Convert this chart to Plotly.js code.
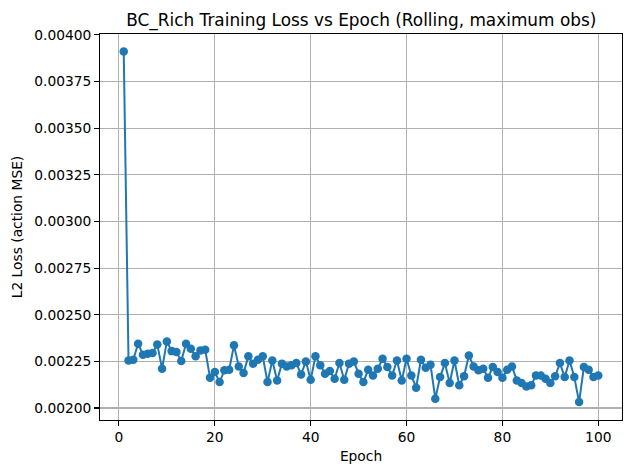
<!DOCTYPE html>
<html>
<head>
<meta charset="utf-8">
<script src="https://cdn.plot.ly/plotly-3.0.1.min.js"></script>
<style>
  html, body { margin: 0; padding: 0; background: #fff; }
  #chart { width: 635px; height: 475px; }
</style>
</head>
<body>
<div id="chart"></div>
<script>
// loss per epoch
const epochs = Array.from({ length: 100 }, (_, i) => i + 1);
const lossValues = [
  0.00391, 0.002255, 0.002259, 0.002345, 0.002286, 0.002291, 0.002295, 0.002341, 0.002211, 0.002357,
  0.002305, 0.002300, 0.002252, 0.002345, 0.002318, 0.002277, 0.002309, 0.002312, 0.002163, 0.002193,
  0.002139, 0.002202, 0.002205, 0.002336, 0.002223, 0.002188, 0.002277, 0.002238, 0.002259, 0.002277,
  0.002139, 0.002255, 0.002148, 0.002238, 0.002223, 0.002229, 0.002241, 0.002180, 0.002250, 0.002152,
  0.002277, 0.002229, 0.002184, 0.002198, 0.002157, 0.002241, 0.002152, 0.002238, 0.002250, 0.002184,
  0.002139, 0.002205, 0.002175, 0.002211, 0.002264, 0.002220, 0.002175, 0.002255, 0.002148, 0.002264,
  0.002175, 0.002109, 0.002259, 0.002216, 0.002232, 0.002050, 0.002166, 0.002241, 0.002134, 0.002255,
  0.002122, 0.002170, 0.002282, 0.002223, 0.002202, 0.002211, 0.002163, 0.002220, 0.002193, 0.002163,
  0.002205, 0.002223, 0.002148, 0.002134, 0.002116, 0.002122, 0.002175, 0.002175, 0.002157, 0.002134,
  0.002170, 0.002241, 0.002166, 0.002255, 0.002166, 0.002032, 0.002220, 0.002205, 0.002166, 0.002175
];
const xTicks = [0, 20, 40, 60, 80, 100];
const yTicks = [0.002, 0.00225, 0.0025, 0.00275, 0.003, 0.00325, 0.0035, 0.00375, 0.004];

const font = "DejaVu Sans, sans-serif";
const blue = "#1f77b4";

const trace = {
  x: epochs,
  y: lossValues,
  type: "scatter",
  mode: "lines+markers",
  line: { color: blue, width: 2 },
  marker: { color: blue, size: 8.5 },
  hoverinfo: "x+y",
};

function axisBase() {
  return {
    showline: true,
    linecolor: "#000",
    linewidth: 1.1,
    mirror: true,
    ticks: "outside",
    ticklen: 4.8,
    tickwidth: 1.1,
    tickcolor: "#000",
    showgrid: true,
    gridcolor: "#b0b0b0",
    gridwidth: 1.1,
    zeroline: false,
    tickfont: { family: font, size: 13.8, color: "#000" },
  };
}

const layout = {
  width: 635,
  height: 475,
  paper_bgcolor: "#fff",
  plot_bgcolor: "#fff",
  margin: { l: 100, r: 12.5, t: 34, b: 55 },
  showlegend: false,
  title: {
    text: "BC_Rich Training Loss vs Epoch (Rolling, maximum obs)",
    font: { family: font, size: 16.9, color: "#000" },
    x: 0.569, xanchor: "center",
    yref: "container", y: 0.958, yanchor: "middle",
  },
  xaxis: Object.assign(axisBase(), {
    range: [-3.95, 104.95],
    tickvals: xTicks,
    ticktext: xTicks.map(String),
    title: { text: "Epoch", font: { family: font, size: 13.8, color: "#000" }, standoff: 6 },
  }),
  yaxis: Object.assign(axisBase(), {
    range: [0.001936, 0.004004],
    tickvals: yTicks,
    ticktext: yTicks.map((v) => v.toFixed(5)),
    title: { text: "L2 Loss (action MSE)", font: { family: font, size: 13.8, color: "#000" }, standoff: 8 },
  }),
};

Plotly.newPlot("chart", [trace], layout, { displayModeBar: false, staticPlot: true });
</script>
</body>
</html>
